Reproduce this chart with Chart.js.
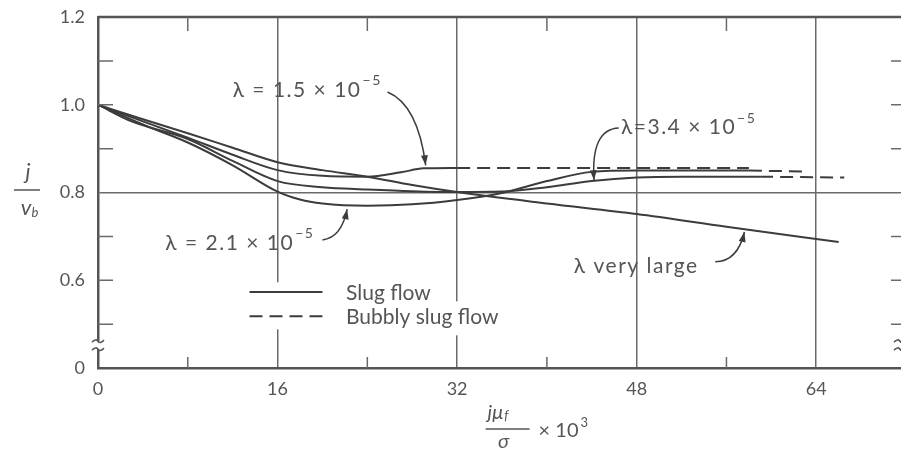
<!DOCTYPE html>
<html>
<head>
<meta charset="utf-8">
<script src="https://cdn.jsdelivr.net/npm/chart.js@4.4.0/dist/chart.umd.min.js"></script>
<style>
  html, body { margin: 0; padding: 0; background: #fff; overflow: hidden; }
  #wrap { width: 901px; height: 449px; overflow: hidden; }
</style>
</head>
<body>
<div id="wrap"><canvas id="c" width="916" height="449"></canvas></div>
<script>
// x = j*mu_f/sigma * 10^3, y = j/v_b
const lamLargeX = [0, 4, 8, 12, 16, 20, 24, 28, 32, 40, 48, 56, 66];
const lamLargeY = [1.0, 0.967, 0.935, 0.902, 0.869, 0.851, 0.836, 0.817, 0.801, 0.775, 0.751, 0.722, 0.687];

const lam15X = [0, 4, 8, 12, 16, 20, 24, 27, 29, 32];
const lam15Y = [1.0, 0.962, 0.925, 0.886, 0.851, 0.838, 0.836, 0.846, 0.855, 0.856];
const lam15DashX = [32, 58];
const lam15DashY = [0.856, 0.856];

const lam21X = [0, 4, 8, 12, 16, 18, 20, 24, 28, 32, 36, 40, 44, 48, 58];
const lam21Y = [1.0, 0.955, 0.914, 0.862, 0.802, 0.784, 0.775, 0.77, 0.773, 0.783, 0.799, 0.826, 0.847, 0.85, 0.85];
const lam21DashX = [58, 63];
const lam21DashY = [0.85, 0.848];

const lam34X = [0, 3, 8, 12, 16, 20, 24, 28, 32, 36, 40, 44, 48, 52, 59];
const lam34Y = [1.0, 0.962, 0.922, 0.872, 0.826, 0.812, 0.807, 0.803, 0.801, 0.802, 0.812, 0.826, 0.834, 0.836, 0.836];
const lam34DashX = [59, 66.5];
const lam34DashY = [0.836, 0.834];

// tick labels
const xLabelValues = [0, 16, 32, 48, 64];
const yTickLabels = ['0', '', '0.6', '', '0.8', '', '1.0', '', '1.2']; // 0.4 .. 1.2 step 0.1 (axis is broken below 0.4)
const xMinor = [8, 24, 40, 56];
const yMinor = [0.5, 0.6, 0.7, 0.9, 1.0, 1.1];

const lineColor = '#3c3c3c';
const gridColor = '#6a6a6a';
const textColor = '#555';
const dash = [13, 7];

// text labels and arrows, in data units
const notes = [
  { text: 'λ = 1.5 × 10', sup: '−5', x: 12.0, y: 1.034 },
  { text: 'λ = 2.1 × 10', sup: '−5', x: 6.0, y: 0.685 },
  { text: 'λ=3.4 × 10', sup: '−5', x: 46.6, y: 0.949 },
  { text: 'λ very large', sup: '', x: 42.4, y: 0.632 }
];
const arrows = [
  { from: [25.8, 1.029], ctrl: [28.5, 1.0], to: [29.2, 0.862] },
  { from: [20.0, 0.692], ctrl: [21.7, 0.697], to: [22.2, 0.762] },
  { from: [46.4, 0.947], ctrl: [43.9, 0.944], to: [44.2, 0.828] },
  { from: [55.0, 0.642], ctrl: [57.0, 0.643], to: [57.6, 0.71] }
];
const legendItems = [
  { label: 'Slug flow', dashed: false, y: 0.573 },
  { label: 'Bubbly slug flow', dashed: true, y: 0.518 }
];

const pts = (xs, ys) => xs.map((x, i) => ({ x: x, y: ys[i] }));

function series(xs, ys, dashed) {
  return {
    data: pts(xs, ys),
    showLine: true,
    borderColor: lineColor,
    borderWidth: 2,
    borderDash: dashed ? dash : [],
    pointRadius: 0,
    cubicInterpolationMode: 'monotone',
    fill: false
  };
}

function drawSup(ctx, text, sup, x, y) {
  ctx.font = '21px Lato';
  ctx.letterSpacing = '1.5px';
  ctx.textBaseline = 'middle';
  ctx.textAlign = 'left';
  ctx.fillText(text, x, y);
  if (sup) {
    const w = ctx.measureText(text).width;
    ctx.font = '14px Lato';
    ctx.fillText(sup, x + w + 1, y - 9);
  }
  ctx.letterSpacing = '0px';
}

const overlay = {
  id: 'overlay',
  afterDraw(chart) {
    const { ctx, chartArea: a, scales } = chart;
    const px = v => scales.x.getPixelForValue(v);
    const py = v => scales.y.getPixelForValue(v);
    ctx.save();

    // gaps in grid lines behind the legend
    ctx.fillStyle = '#fff';
    ctx.fillRect(px(12.5), py(0.6) + 2, px(21) - px(12.5), py(0.52) - py(0.6) + 12);
    ctx.fillRect(px(21.5), py(0.52) - 14, px(39) - px(21.5), 34);

    // top frame line
    ctx.strokeStyle = '#555';
    ctx.lineWidth = 2.5;
    ctx.beginPath();
    ctx.moveTo(a.left, a.top);
    ctx.lineTo(a.right, a.top);
    ctx.stroke();

    // inner ticks
    ctx.strokeStyle = gridColor;
    ctx.lineWidth = 1.5;
    ctx.beginPath();
    xMinor.forEach(v => {
      ctx.moveTo(px(v), a.top); ctx.lineTo(px(v), a.top + 14);
      ctx.moveTo(px(v), a.bottom); ctx.lineTo(px(v), a.bottom - 11);
    });
    yMinor.forEach(v => {
      ctx.moveTo(a.left, py(v)); ctx.lineTo(a.left + 15, py(v));
      ctx.moveTo(a.right, py(v)); ctx.lineTo(a.right - 15, py(v));
    });
    ctx.stroke();

    // axis break marks
    const yb = py(0.452);
    [a.left, a.right - 6].forEach(xb => {
      ctx.fillStyle = '#fff';
      ctx.fillRect(xb - 4, yb - 4, 8, 8);
      ctx.strokeStyle = '#555';
      ctx.lineWidth = 1.6;
      [-4, 4].forEach(d => {
        ctx.beginPath();
        ctx.moveTo(xb - 6, yb + d + 1);
        ctx.quadraticCurveTo(xb - 2, yb + d - 3, xb, yb + d);
        ctx.quadraticCurveTo(xb + 2, yb + d + 3, xb + 6, yb + d - 1);
        ctx.stroke();
      });
    });

    // legend
    ctx.strokeStyle = lineColor;
    ctx.lineWidth = 2;
    ctx.fillStyle = textColor;
    legendItems.forEach(it => {
      ctx.setLineDash(it.dashed ? dash : []);
      ctx.beginPath();
      ctx.moveTo(px(13.5), py(it.y));
      ctx.lineTo(px(20.0), py(it.y));
      ctx.stroke();
      ctx.font = '21px Lato';
      ctx.textBaseline = 'middle';
      ctx.textAlign = 'left';
      ctx.fillText(it.label, px(22.1), py(it.y) + 1);
    });
    ctx.setLineDash([]);

    // labels
    notes.forEach(n => drawSup(ctx, n.text, n.sup, px(n.x), py(n.y)));

    // arrows
    ctx.strokeStyle = lineColor;
    ctx.fillStyle = lineColor;
    ctx.lineWidth = 1.5;
    arrows.forEach(ar => {
      const f = [px(ar.from[0]), py(ar.from[1])];
      const c = [px(ar.ctrl[0]), py(ar.ctrl[1])];
      const t = [px(ar.to[0]), py(ar.to[1])];
      ctx.beginPath();
      ctx.moveTo(f[0], f[1]);
      ctx.quadraticCurveTo(c[0], c[1], t[0], t[1]);
      ctx.stroke();
      const ang = Math.atan2(t[1] - c[1], t[0] - c[0]);
      ctx.beginPath();
      ctx.moveTo(t[0], t[1]);
      ctx.lineTo(t[0] - 10 * Math.cos(ang) + 3.5 * Math.sin(ang), t[1] - 10 * Math.sin(ang) - 3.5 * Math.cos(ang));
      ctx.lineTo(t[0] - 10 * Math.cos(ang) - 3.5 * Math.sin(ang), t[1] - 10 * Math.sin(ang) + 3.5 * Math.cos(ang));
      ctx.closePath();
      ctx.fill();
    });

    // y axis title  j / v_b
    ctx.fillStyle = textColor;
    ctx.textAlign = 'center';
    ctx.textBaseline = 'middle';
    ctx.font = 'italic 22px Lato';
    ctx.fillText('j', 28, 172);
    ctx.fillText('v', 26, 208);
    ctx.font = 'italic 13px Lato';
    ctx.fillText('b', 35, 213);
    ctx.strokeStyle = '#555';
    ctx.lineWidth = 1.5;
    ctx.beginPath();
    ctx.moveTo(14, 190); ctx.lineTo(40, 190);
    ctx.stroke();

    // x axis title  j mu_f / sigma x 10^3
    const cx = px(36.5);
    ctx.textAlign = 'left';
    ctx.font = 'italic 20px Lato';
    const wn = ctx.measureText('jμ').width;
    ctx.fillText('jμ', cx - 20, 413);
    ctx.font = 'italic 13px Lato';
    ctx.fillText('f', cx - 20 + wn + 1, 416);
    ctx.textAlign = 'center';
    ctx.font = 'italic 20px Lato';
    ctx.fillText('σ', cx - 4, 442);
    ctx.beginPath();
    ctx.moveTo(cx - 22, 429); ctx.lineTo(cx + 22, 429);
    ctx.stroke();
    ctx.textAlign = 'left';
    ctx.font = '20px Lato';
    ctx.fillText('× 10', cx + 31, 431);
    const wx = ctx.measureText('× 10').width;
    ctx.font = '13px Lato';
    ctx.fillText('3', cx + 31 + wx + 2, 423);

    ctx.restore();
  }
};

new Chart(document.getElementById('c'), {
  type: 'scatter',
  data: {
    datasets: [
      series(lamLargeX, lamLargeY, false),
      series(lam15X, lam15Y, false),
      series(lam15DashX, lam15DashY, true),
      series(lam21X, lam21Y, false),
      series(lam21DashX, lam21DashY, true),
      series(lam34X, lam34Y, false),
      series(lam34DashX, lam34DashY, true)
    ]
  },
  options: {
    responsive: false,
    animation: false,
    events: [],
    layout: { padding: { top: 17, right: 2, left: 0, bottom: 0 } },
    plugins: { legend: { display: false }, tooltip: { enabled: false } },
    scales: {
      x: {
        type: 'linear',
        min: 0,
        max: 72,
        afterFit: s => { s.height = 81; },
        ticks: {
          stepSize: 8,
          autoSkip: false,
          maxRotation: 0,
          padding: 10,
          color: textColor,
          font: { family: 'Lato', size: 18 },
          callback: v => xLabelValues.includes(v) ? String(v) : ''
        },
        grid: {
          drawTicks: false,
          lineWidth: 1.5,
          color: c => (c.tick && c.tick.value % 16 === 0 && c.tick.value > 0 && c.tick.value < 72) ? gridColor : 'rgba(0,0,0,0)'
        },
        border: { display: true, color: '#555', width: 2.5 }
      },
      y: {
        min: 0.4,
        max: 1.2,
        afterFit: s => { s.width = 98; s.paddingTop = 0; s.paddingBottom = 0; },
        ticks: {
          stepSize: 0.1,
          autoSkip: false,
          padding: 13,
          color: textColor,
          font: { family: 'Lato', size: 18 },
          callback: v => yTickLabels[Math.round((v - 0.4) * 10)] || ''
        },
        grid: {
          drawTicks: false,
          lineWidth: 1.5,
          color: c => (c.tick && Math.round(c.tick.value * 10) === 8) ? gridColor : 'rgba(0,0,0,0)'
        },
        border: { display: true, color: '#555', width: 2.5 }
      }
    }
  },
  plugins: [overlay]
});
</script>
</body>
</html>
